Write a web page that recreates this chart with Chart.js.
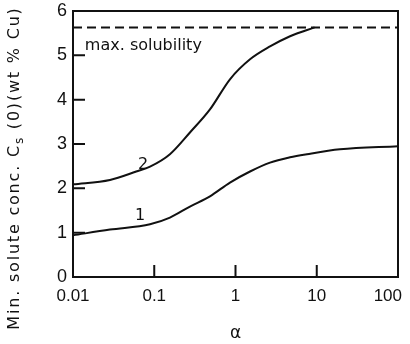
<!DOCTYPE html>
<html>
<head>
<meta charset="UTF-8">
<title>Min. solute concentration vs alpha</title>
<script src="https://cdn.jsdelivr.net/npm/chart.js"></script>
<style>
  html, body { margin: 0; padding: 0; background: #fff; }
  .box { width: 410px; height: 344px; }
</style>
</head>
<body>
<div class="box"><canvas id="chart"></canvas></div>
<script>
// data
const alpha1 = [0.01, 0.0285, 0.0887, 0.156, 0.275, 0.485, 0.855, 1.51, 2.66, 4.69, 7.59, 19.3, 100];
const conc1  = [0.94, 1.07, 1.19, 1.34, 1.59, 1.82, 2.13, 2.38, 2.58, 2.70, 2.77, 2.88, 2.95];

const alpha2 = [0.01, 0.0285, 0.06, 0.0887, 0.156, 0.275, 0.485, 0.855, 1.51, 2.66, 4.69, 9.4];
const conc2  = [2.09, 2.19, 2.38, 2.49, 2.77, 3.26, 3.78, 4.46, 4.91, 5.20, 5.43, 5.63];

const maxSolubility = 5.63;
const alphaRange = [0.01, 100];

const xTicks = [0.01, 0.1, 1, 10, 100];
const xTickLabels = ['0.01', '0.1', '1', '10', '100'];
const yTicks = [0, 1, 2, 3, 4, 5, 6];

// curve labels (data coords)
const curveLabels = [
    { text: '1', x: 0.067, y: 1.37 },
    { text: '2', x: 0.073, y: 2.52 }
];
const solubilityLabel = { text: 'max. solubility', x: 0.014, y: 5.13 };

const toPoints = (xs, ys) => xs.map((v, i) => ({ x: v, y: ys[i] }));

const framePlugin = {
    id: 'frame',
    afterDatasetsDraw(chart) {
        const { ctx, chartArea: a, scales: { x, y } } = chart;
        ctx.save();
        ctx.strokeStyle = '#111';
        ctx.lineWidth = 2;
        ctx.strokeRect(a.left, a.top, a.right - a.left, a.bottom - a.top);

        // inward tick marks
        ctx.beginPath();
        yTicks.slice(1, -1).forEach(v => {
            const py = y.getPixelForValue(v);
            ctx.moveTo(a.left, py);
            ctx.lineTo(a.left + 12, py);
        });
        xTicks.slice(1, -1).forEach(v => {
            const px = x.getPixelForValue(v);
            ctx.moveTo(px, a.bottom);
            ctx.lineTo(px, a.bottom - 12);
        });
        ctx.stroke();

        ctx.fillStyle = '#111';

        // x tick labels, the last one kept inside the canvas
        ctx.font = '17px "Liberation Sans"';
        ctx.textBaseline = 'middle';
        xTicks.forEach((v, i) => {
            const last = i === xTicks.length - 1;
            ctx.textAlign = last ? 'right' : 'center';
            const px = x.getPixelForValue(v) + (last ? 4 : 0);
            ctx.fillText(xTickLabels[i], px, a.bottom + 19);
        });

        ctx.font = '16px "DejaVu Sans"';
        ctx.textAlign = 'center';
        curveLabels.forEach(l => {
            ctx.fillText(l.text, x.getPixelForValue(l.x), y.getPixelForValue(l.y));
        });
        ctx.textAlign = 'left';
        ctx.textBaseline = 'alphabetic';
        ctx.fillText(solubilityLabel.text, x.getPixelForValue(solubilityLabel.x), y.getPixelForValue(solubilityLabel.y));

        // y axis title with subscript
        const p1 = 'Min. solute conc. C', sub = 's', p2 = ' (0)(wt % Cu)';
        const big = '16px "DejaVu Sans"', small = '12px "DejaVu Sans"';
        ctx.letterSpacing = '1.8px';
        ctx.font = big;
        const w1 = ctx.measureText(p1).width, w3 = ctx.measureText(p2).width;
        ctx.font = small;
        const w2 = ctx.measureText(sub).width;
        const total = w1 + w2 + w3;
        ctx.translate(15, 168);
        ctx.rotate(-Math.PI / 2);
        ctx.textBaseline = 'middle';
        let cx = -total / 2;
        ctx.font = big;
        ctx.fillText(p1, cx, 0);
        cx += w1;
        ctx.font = small;
        ctx.fillText(sub, cx, 5);
        cx += w2;
        ctx.font = big;
        ctx.fillText(p2, cx, 0);
        ctx.restore();
    }
};

const ctx = document.getElementById('chart').getContext('2d');
new Chart(ctx, {
    type: 'scatter',
    data: {
        datasets: [
            {
                label: '1',
                data: toPoints(alpha1, conc1),
                showLine: true,
                cubicInterpolationMode: 'monotone',
                borderColor: '#111',
                borderWidth: 2,
                pointRadius: 0
            },
            {
                label: '2',
                data: toPoints(alpha2, conc2),
                showLine: true,
                cubicInterpolationMode: 'monotone',
                borderColor: '#111',
                borderWidth: 2,
                pointRadius: 0
            },
            {
                label: 'max. solubility',
                data: alphaRange.map(v => ({ x: v, y: maxSolubility })),
                showLine: true,
                borderColor: '#111',
                borderWidth: 2,
                borderDash: [9, 5],
                pointRadius: 0
            }
        ]
    },
    options: {
        responsive: true,
        maintainAspectRatio: false,
        animation: false,
        layout: { padding: 0 },
        plugins: {
            legend: { display: false },
            tooltip: { enabled: false }
        },
        scales: {
            x: {
                type: 'logarithmic',
                min: 0.01,
                max: 100,
                afterBuildTicks: s => { s.ticks = xTicks.map(v => ({ value: v })); },
                afterFit: s => { s.height = 67; s.paddingLeft = 0; s.paddingRight = 12; },
                grid: { display: false, drawTicks: false },
                border: { display: false },
                ticks: { display: false },
                title: {
                    display: true,
                    text: 'α',
                    color: '#111',
                    font: { family: 'DejaVu Sans', size: 17 },
                    padding: { top: 0, bottom: 0 }
                }
            },
            y: {
                min: 0,
                max: 6,
                afterBuildTicks: s => { s.ticks = yTicks.map(v => ({ value: v })); },
                afterFit: s => { s.width = 73; s.paddingTop = 11; s.paddingBottom = 0; },
                grid: { display: false, drawTicks: false },
                border: { display: false },
                ticks: {
                    padding: 6,
                    color: '#111',
                    font: { family: 'Liberation Sans', size: 18 }
                }
            }
        }
    },
    plugins: [framePlugin]
});
</script>
</body>
</html>
